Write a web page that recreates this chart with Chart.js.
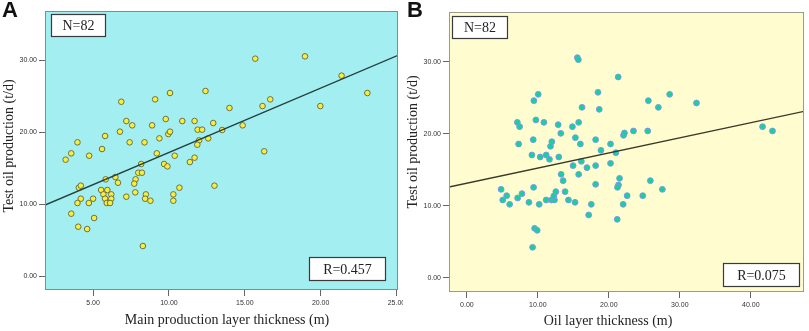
<!DOCTYPE html>
<html>
<head>
<meta charset="utf-8">
<script src="https://cdn.jsdelivr.net/npm/chart.js@4.4.0/dist/chart.umd.min.js"></script>
<style>
    html, body { margin: 0; padding: 0; background: #ffffff; }
    #wrap { position: relative; width: 809px; height: 331px; overflow: hidden; }
    canvas { position: absolute; top: 0; }
    #chartA { left: 0; }
    #chartB { left: 405px; }
</style>
</head>
<body>
<div id="wrap">
    <canvas id="chartA" width="403" height="331"></canvas>
    <canvas id="chartB" width="404" height="331"></canvas>
</div>
<script>
// Panel A: main production layer thickness (m) vs test oil production (t/d)
const thickA = [3.19, 3.56, 3.97, 4.74, 5.59, 5.79, 6.86, 7.19, 7.58, 6.77,
    7.41, 8.39, 9.09, 10.07, 8.89, 9.79, 9.96, 10.07, 9.37, 10.88,
    11.69, 11.89, 12.19, 12.41, 12.92, 11.99, 11.87, 12.59, 9.20, 10.38,
    11.69, 11.38, 9.68, 9.90, 8.17, 7.98, 8.22, 7.80, 7.71, 7.78,
    7.19, 6.47, 6.64, 5.83, 4.06, 4.19, 4.19, 3.97, 4.72, 5.00,
    5.07, 3.56, 4.02, 4.61, 5.53, 5.94, 5.68, 6.20, 5.79, 6.20,
    5.90, 6.12, 8.48, 8.43, 8.78, 8.28, 10.29, 10.29, 10.69, 13.00,
    13.51, 13.99, 14.86, 15.69, 16.17, 16.68, 16.28, 18.97, 19.98, 21.38, 23.08];
const prodA = [16.20, 17.08, 18.61, 16.75, 17.68, 19.49, 24.25, 21.57, 20.97, 20.09,
    18.61, 18.61, 24.58, 25.46, 20.97, 21.85, 19.76, 20.09, 19.16, 21.57,
    21.57, 20.37, 20.37, 25.74, 21.29, 18.88, 18.28, 19.16, 17.08, 16.75,
    16.48, 15.87, 15.60, 15.27, 15.60, 14.39, 14.39, 13.47, 12.87, 11.66,
    11.06, 13.79, 13.00, 13.47, 12.31, 12.59, 10.78, 10.18, 10.18, 10.78,
    8.10, 8.70, 6.89, 6.57, 11.99, 11.99, 11.38, 11.38, 10.78, 10.78,
    10.18, 10.18, 11.38, 10.78, 10.50, 4.21, 11.38, 10.50, 12.31, 12.59,
    20.32, 23.38, 20.97, 30.23, 23.65, 24.58, 17.36, 30.55, 23.65, 27.87, 25.46];

// Panel B: oil layer thickness (m) vs test oil production (t/d)
const thickB = [15.57, 15.71, 21.32, 18.47, 10.05, 9.44, 16.22, 18.65, 7.11, 7.43,
    9.72, 10.85, 12.86, 14.87, 15.75, 13.23, 15.29, 7.29, 9.35, 11.97,
    11.78, 15.99, 18.14, 20.24, 22.07, 22.20, 18.89, 20.99, 9.16, 10.33,
    11.17, 11.64, 12.95, 16.13, 14.96, 16.92, 15.75, 18.14, 20.24, 13.28,
    13.56, 18.14, 21.51, 21.36, 21.22, 22.58, 4.82, 5.61, 5.05, 6.03,
    7.15, 7.76, 8.74, 9.40, 10.19, 11.17, 11.92, 12.34, 12.25, 12.53,
    13.84, 14.31, 15.24, 17.53, 17.16, 21.18, 22.02, 9.54, 9.91, 9.26,
    25.57, 28.57, 26.98, 32.35, 23.47, 25.48, 41.66, 43.06, 25.85, 24.78, 27.54];
const prodB = [30.60, 30.32, 27.91, 25.78, 25.50, 24.62, 23.69, 23.41, 21.60, 21.00,
    21.93, 21.60, 21.28, 21.00, 21.60, 20.07, 19.47, 18.59, 19.19, 18.91,
    18.27, 18.59, 19.19, 18.59, 19.80, 20.12, 17.71, 17.38, 17.06, 16.78,
    17.06, 16.46, 16.78, 16.18, 15.58, 15.30, 14.37, 15.58, 15.90, 14.37,
    13.49, 12.98, 13.81, 12.89, 12.56, 11.40, 12.28, 11.40, 10.80, 10.20,
    11.08, 11.68, 10.48, 12.56, 10.20, 10.80, 10.80, 10.80, 11.36, 11.96,
    11.96, 10.80, 10.48, 10.20, 8.72, 8.11, 10.20, 6.86, 6.58, 4.22,
    24.62, 25.50, 23.69, 24.29, 20.40, 20.40, 21.00, 20.40, 13.49, 11.40, 12.28];

// fitted lines, end points
const fitXA = [1.83, 25.1];
const fitYA = [9.9, 30.7];
const fitXB = [-2.52, 47.5];
const fitYB = [12.60, 23.13];

const yTicks = [0, 10, 20, 30];
const xTicksA = [5, 10, 15, 20, 25];
const xTicksB = [0, 10, 20, 30, 40];

const SERIF = "'Liberation Serif', 'Times New Roman', serif";
const SANS = "'Liberation Sans', Arial, sans-serif";

// background, frame, stat boxes and titles of one panel
const panelDecor = {
    id: "panelDecor",
    beforeDraw(chart, args, opts) {
        const { ctx, chartArea: a } = chart;
        ctx.save();
        ctx.fillStyle = opts.bg;
        ctx.fillRect(a.left, a.top, a.right - a.left, a.bottom - a.top);
        ctx.restore();
    },
    afterDraw(chart, args, opts) {
        const { ctx, chartArea: a } = chart;
        ctx.save();
        ctx.strokeStyle = opts.frame;
        ctx.lineWidth = 1;
        ctx.strokeRect(a.left + 0.5, a.top + 0.5, a.right - a.left - 1, a.bottom - a.top - 1);

        for (const box of opts.boxes) {
            ctx.fillStyle = "#ffffff";
            ctx.fillRect(box.x, box.y, box.w, box.h);
            ctx.strokeStyle = "#3a3a3a";
            ctx.lineWidth = 1.2;
            ctx.strokeRect(box.x + 0.5, box.y + 0.5, box.w - 1, box.h - 1);
            ctx.fillStyle = "#222222";
            ctx.font = `14px ${SERIF}`;
            ctx.textAlign = "center";
            ctx.textBaseline = "middle";
            ctx.fillText(box.text, box.x + box.w / 2, box.y + box.h / 2 + 1);
        }

        ctx.fillStyle = "#111111";
        ctx.font = `bold 22px ${SANS}`;
        ctx.textAlign = "left";
        ctx.textBaseline = "top";
        ctx.fillText(opts.letter, opts.letterX, 0);

        ctx.fillStyle = "#222222";
        ctx.font = `14px ${SERIF}`;
        ctx.textAlign = "center";
        ctx.textBaseline = "middle";
        ctx.fillText(opts.xTitle, opts.xTitleX, opts.xTitleY);

        ctx.translate(opts.yTitleX, opts.yTitleY);
        ctx.rotate(-Math.PI / 2);
        ctx.fillText(opts.yTitle, 0, 0);
        ctx.restore();
    },
};

function makePanel(canvasId, xs, ys, fitX, fitY, xTicks, look) {
    const points = xs.map((x, i) => ({ x, y: ys[i] }));
    const fit = fitX.map((x, i) => ({ x, y: fitY[i] }));

    const tickFont = { family: SANS, size: 7 };
    const useTicks = (values) => (scale) => {
        scale.ticks = values.map((value) => ({ value }));
    };

    return new Chart(document.getElementById(canvasId), {
        type: "scatter",
        data: {
            datasets: [
                {
                    type: "line",
                    data: fit,
                    borderColor: look.lineColor,
                    borderWidth: 1.4,
                    pointRadius: 0,
                    fill: false,
                    order: 0,
                },
                {
                    data: points,
                    pointRadius: look.dotRadius,
                    pointBackgroundColor: look.dotFill,
                    pointBorderColor: look.dotEdge,
                    pointBorderWidth: look.dotEdgeWidth,
                    order: 1,
                },
            ],
        },
        plugins: [panelDecor],
        options: {
            responsive: false,
            animation: false,
            layout: { padding: look.padding },
            plugins: {
                legend: { display: false },
                tooltip: { enabled: false },
                panelDecor: look.decor,
            },
            scales: {
                x: {
                    type: "linear",
                    min: look.xRange[0],
                    max: look.xRange[1],
                    afterBuildTicks: useTicks(xTicks),
                    afterFit: (scale) => {
                        // the last label may run past the canvas edge, as in the figure
                        scale.height = look.xAxisHeight;
                        scale.paddingLeft = 0;
                        scale.paddingRight = 0;
                    },
                    border: { display: false },
                    grid: { drawOnChartArea: false, drawTicks: true, tickLength: 6, color: "#666666" },
                    ticks: {
                        font: tickFont,
                        color: "#333333",
                        padding: 3,
                        maxRotation: 0,
                        callback: (v) => Number(v).toFixed(2),
                    },
                },
                y: {
                    type: "linear",
                    min: look.yRange[0],
                    max: look.yRange[1],
                    afterBuildTicks: useTicks(yTicks),
                    afterFit: (scale) => {
                        scale.width = look.yAxisWidth;
                        scale.paddingTop = 0;
                        scale.paddingBottom = 0;
                    },
                    border: { display: false },
                    grid: { drawOnChartArea: false, drawTicks: true, tickLength: 6, color: "#666666" },
                    ticks: {
                        font: tickFont,
                        color: "#333333",
                        padding: 2,
                        callback: (v) => Number(v).toFixed(2),
                    },
                },
            },
        },
    });
}

makePanel("chartA", thickA, prodA, fitXA, fitYA, xTicksA, {
    xRange: [1.83, 25.1],
    yRange: [-1.9, 36.85],
    padding: { left: 0, top: 11, right: 3, bottom: 0 },
    yAxisWidth: 45,
    xAxisHeight: 41,
    lineColor: "#23403f",
    dotRadius: 2.8,
    dotFill: "#f7f03a",
    dotEdge: "#6f6f4a",
    dotEdgeWidth: 1,
    decor: {
        bg: "#a3eef0",
        frame: "#7d8c8c",
        letter: "A",
        letterX: 2,
        xTitle: "Main production layer thickness (m)",
        xTitleX: 227,
        xTitleY: 320,
        yTitle: "Test oil production (t/d)",
        yTitleX: 9,
        yTitleY: 146,
        boxes: [
            { text: "N=82", x: 51, y: 14, w: 55, h: 23 },
            { text: "R=0.457", x: 309, y: 257, w: 77, h: 24 },
        ],
    },
});

makePanel("chartB", thickB, prodB, fitXB, fitYB, xTicksB, {
    xRange: [-2.52, 47.5],
    yRange: [-2.0, 36.95],
    padding: { left: 0, top: 12, right: 3, bottom: 0 },
    yAxisWidth: 44,
    xAxisHeight: 39,
    lineColor: "#3a3a28",
    dotRadius: 2.9,
    dotFill: "#14d39a",
    dotEdge: "#8294f0",
    dotEdgeWidth: 1,
    decor: {
        bg: "#fffdd0",
        frame: "#9a9a90",
        letter: "B",
        letterX: 2,
        xTitle: "Oil layer thickness (m)",
        xTitleX: 203,
        xTitleY: 321,
        yTitle: "Test oil production (t/d)",
        yTitleX: 8,
        yTitleY: 142,
        boxes: [
            { text: "N=82", x: 47, y: 16, w: 56, h: 23 },
            { text: "R=0.075", x: 318, y: 263, w: 77, h: 24 },
        ],
    },
});
</script>
</body>
</html>
